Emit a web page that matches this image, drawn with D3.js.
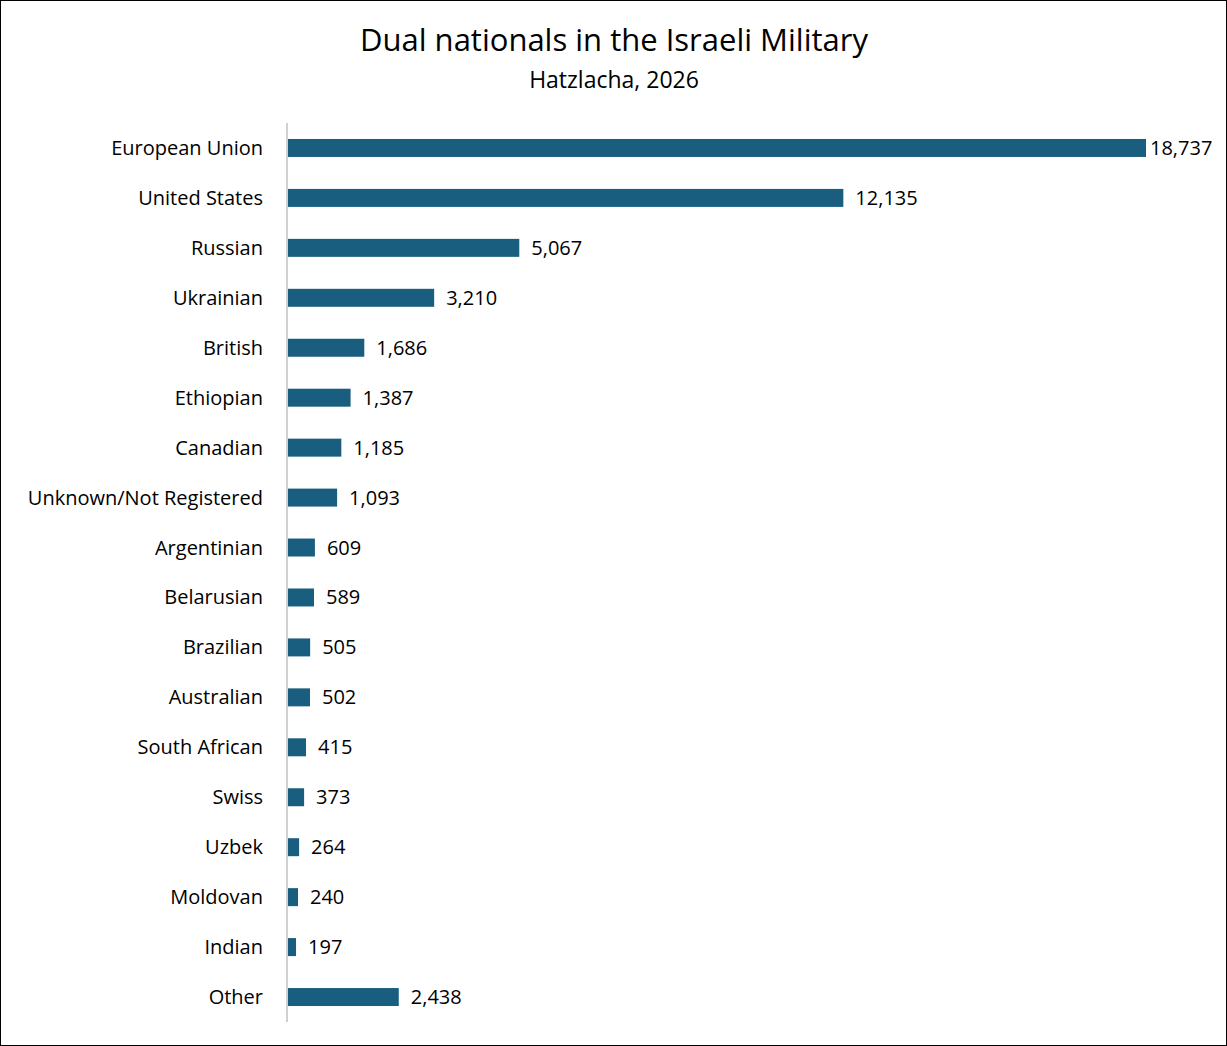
<!DOCTYPE html>
<html><head><meta charset="utf-8">
<script src="https://cdn.jsdelivr.net/npm/d3@7"></script>
<style>body{margin:0;background:#fff}</style></head>
<body><svg id="c" width="1227" height="1046"></svg>
<script>
const categories=["European Union","United States","Russian","Ukrainian","British","Ethiopian","Canadian","Unknown/Not Registered","Argentinian","Belarusian","Brazilian","Australian","South African","Swiss","Uzbek","Moldovan","Indian","Other"];
const values=[18737,12135,5067,3210,1686,1387,1185,1093,609,589,505,502,415,373,264,240,197,2438];
const svg=d3.select("#c");
const font="'Open Sans', 'Noto Sans', sans-serif";
svg.append("rect").attr("x",0.5).attr("y",0.5).attr("width",1226).attr("height",1045).attr("fill","#fff").attr("stroke","#000");
svg.append("text").attr("x",614).attr("y",51).attr("text-anchor","middle").attr("font-family",font).attr("font-size",31).attr("fill","#000").text("Dual nationals in the Israeli Military");
svg.append("text").attr("x",614).attr("y",88).attr("text-anchor","middle").attr("font-family",font).attr("font-size",23).attr("fill","#000").text("Hatzlacha, 2026");
const x=d3.scaleLinear().domain([0,18737]).range([287,1146]);
const y=d3.scaleBand().domain(categories).range([123,1022]).paddingInner(0.64).paddingOuter(0.32);
const data=categories.map((c,i)=>({c,v:values[i]}));
svg.selectAll(".bar").data(data).join("rect").attr("x",x(0)).attr("y",d=>y(d.c)).attr("width",d=>x(d.v)-x(0)).attr("height",y.bandwidth()).attr("fill","#195e7e");
svg.append("line").attr("x1",287).attr("x2",287).attr("y1",123).attr("y2",1022).attr("stroke","#d0d0d0").attr("stroke-width",2);
svg.selectAll(".cat").data(data).join("text").attr("x",263).attr("y",d=>y(d.c)+y.bandwidth()/2).attr("dy","0.35em").attr("text-anchor","end").attr("font-family",font).attr("font-size",20).attr("fill","#000").text(d=>d.c);
svg.selectAll(".val").data(data).join("text").attr("x",d=>x(d.v)+(d.v>15000?4:12)).attr("y",d=>y(d.c)+y.bandwidth()/2).attr("dy","0.35em").attr("font-family",font).attr("font-size",20).attr("fill","#000").text(d=>d3.format(",")(d.v));
</script></body></html>
